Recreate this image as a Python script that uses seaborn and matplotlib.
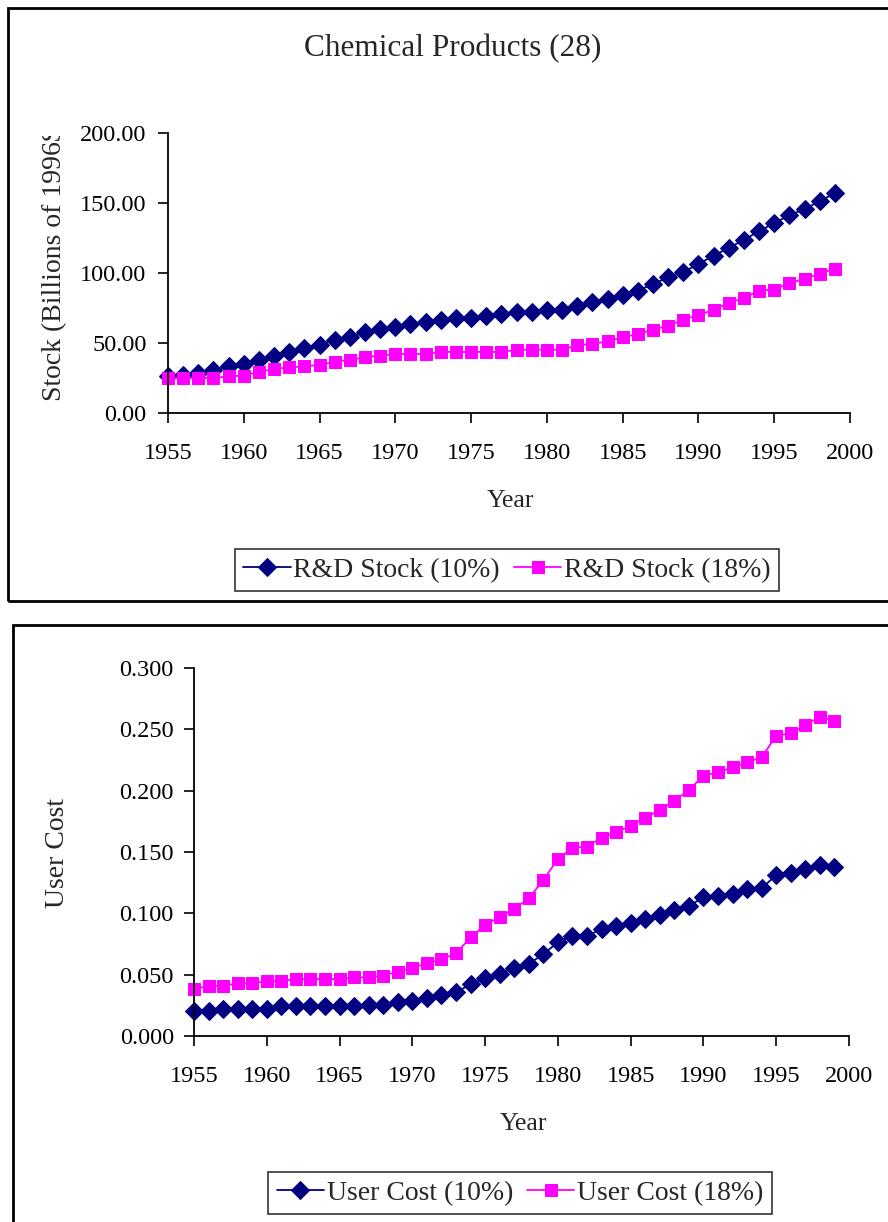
import numpy as np
import pandas as pd
import seaborn as sns
import matplotlib.pyplot as plt
from matplotlib.patches import Rectangle
from matplotlib.transforms import Bbox, TransformedBbox
from matplotlib.ticker import FormatStrFormatter, MultipleLocator

# --- Data ---
years = list(range(1955, 2000))

stock_10 = [26.7, 27.4, 28.6, 31.0, 33.3, 35.0, 38.0, 40.5, 43.6, 46.4,
            48.8, 51.9, 54.3, 57.6, 60.2, 61.4, 63.6, 65.0, 66.2, 67.9,
            67.9, 69.5, 70.5, 72.1, 72.1, 73.3, 73.3, 76.2, 79.0, 81.7,
            84.5, 87.4, 92.1, 96.9, 100.7, 106.4, 112.4, 117.9, 123.8, 129.8,
            135.7, 141.2, 145.7, 151.2, 157.1]
stock_18 = [25.0, 25.0, 25.0, 25.0, 26.2, 26.7, 29.3, 31.4, 32.6, 33.3,
            34.5, 36.4, 38.1, 39.8, 41.0, 42.1, 42.1, 42.1, 43.6, 43.6,
            43.6, 43.6, 43.6, 45.2, 45.2, 45.2, 45.2, 48.3, 49.3, 51.2,
            54.0, 56.4, 59.5, 62.4, 66.7, 69.8, 73.8, 78.6, 82.1, 87.4,
            88.1, 92.9, 95.7, 99.5, 103.1]

cost_10 = [0.0207, 0.0204, 0.0220, 0.0220, 0.0220, 0.0220, 0.0242, 0.0242, 0.0242, 0.0242,
           0.0242, 0.0242, 0.0255, 0.0255, 0.0274, 0.0288, 0.0307, 0.0334, 0.0356, 0.0421,
           0.0470, 0.0508, 0.0557, 0.0587, 0.0668, 0.0764, 0.0818, 0.0818, 0.0870, 0.0899,
           0.0918, 0.0951, 0.0986, 0.1027, 0.1060, 0.1130, 0.1144, 0.1158, 0.1198, 0.1204,
           0.1313, 0.1332, 0.1359, 0.1394, 0.1375]
cost_18 = [0.0380, 0.0408, 0.0408, 0.0429, 0.0429, 0.0448, 0.0448, 0.0465, 0.0465, 0.0465,
           0.0465, 0.0478, 0.0478, 0.0492, 0.0524, 0.0557, 0.0592, 0.0625, 0.0674, 0.0804,
           0.0905, 0.0973, 0.1035, 0.1122, 0.1272, 0.1443, 0.1535, 0.1543, 0.1617, 0.1660,
           0.1715, 0.1780, 0.1842, 0.1918, 0.2005, 0.2122, 0.2149, 0.2190, 0.2231, 0.2272,
           0.2448, 0.2467, 0.2535, 0.2603, 0.2568]

NAVY = "#000080"
MAGENTA = "#FF00FF"
FS = 17.5

sns.set_style("white")
plt.rcParams['font.family'] = ['Liberation Serif', 'DejaVu Serif']

W, H = 888, 1222
fig = plt.figure(figsize=(W / 100, H / 100), dpi=100)


def fbox(x0, y0, x1, y1):
    # pixel box (top-left origin) -> figure fraction rect
    return [x0 / W, 1 - y1 / H, (x1 - x0) / W, (y1 - y0) / H]


def style_axes(ax, ymax, ystep, fmt, ypad):
    ax.set_xlim(1955, 2000)
    ax.set_ylim(0, ymax)
    ax.xaxis.set_major_locator(MultipleLocator(5))
    ax.yaxis.set_major_locator(MultipleLocator(ystep))
    ax.yaxis.set_major_formatter(FormatStrFormatter(fmt))
    for s in ["top", "right"]:
        ax.spines[s].set_visible(False)
    for s in ["left", "bottom"]:
        ax.spines[s].set_color("black")
        ax.spines[s].set_linewidth(1.3)
    ax.tick_params(axis="both", direction="out", length=7, width=1.2, color="black",
                   labelsize=FS, labelcolor="black", left=True, bottom=True)
    ax.tick_params(axis="x", pad=14.5)
    ax.tick_params(axis="y", pad=ypad)
    ax.set_xlabel("")
    ax.set_ylabel("")


def draw(ax, y1, y2, l1, l2):
    sns.lineplot(x=years, y=y1, ax=ax, color=NAVY, lw=1.3, marker="D", markersize=9,
                 markeredgecolor=NAVY, label=l1, clip_on=False)
    sns.lineplot(x=years, y=y2, ax=ax, color=MAGENTA, lw=1.3, marker="s", markersize=8.5,
                 markeredgecolor=MAGENTA, label=l2, clip_on=False)


# --- Top chart: R&D stock ---
ax1 = fig.add_axes(fbox(168, 133, 850, 413))
draw(ax1, stock_10, stock_18, "R&D Stock (10%)", "R&D Stock (18%)")
style_axes(ax1, 200, 50, "%.2f", 8.5)

# --- Bottom chart: user cost ---
ax2 = fig.add_axes(fbox(194, 668, 849, 1036))
draw(ax2, cost_10, cost_18, "User Cost (10%)", "User Cost (18%)")
style_axes(ax2, 0.3, 0.05, "%.3f", 7.5)

# legends
for ax, cx, cy in [(ax1, 507, 570), (ax2, 520, 1193)]:
    leg = ax.legend(loc="center", bbox_to_anchor=(cx / W, 1 - cy / H),
                    bbox_transform=fig.transFigure, ncol=2, fontsize=20,
                    frameon=True, fancybox=False, edgecolor="black",
                    handlelength=1.7, handletextpad=0.1, columnspacing=0.5,
                    borderpad=0.3, borderaxespad=0)
    leg.get_frame().set_linewidth(1.2)

# titles and axis labels
fig.text(453 / W, 1 - 49 / H, "Chemical Products (28)", ha="center", va="center", fontsize=22.5)
fig.text(510 / W, 1 - 501 / H, "Year", ha="center", va="center", fontsize=18.5)
fig.text(523 / W, 1 - 1124 / H, "Year", ha="center", va="center", fontsize=18.5)

ylab = fig.text(53 / W, 1 - 401 / H, "Stock (Billions of 1996$)", rotation=90,
                ha="center", va="bottom", fontsize=20)
ylab.set_clip_box(TransformedBbox(Bbox([[0, 0], [1, 1 - 136 / H]]), fig.transFigure))
ylab.set_clip_on(True)
fig.text(58 / W, 1 - 853 / H, "User Cost", rotation=90, ha="center", va="center", fontsize=20)

# chart-area borders
fig.add_artist(Rectangle((8 / W, 1 - 601 / H), 900 / W, 593 / H, transform=fig.transFigure,
                         fill=False, ec="black", lw=2))
fig.add_artist(Rectangle((13 / W, 1 - 1240 / H), 900 / W, 615 / H, transform=fig.transFigure,
                         fill=False, ec="black", lw=2))

fig.savefig("out.png", dpi=100)
